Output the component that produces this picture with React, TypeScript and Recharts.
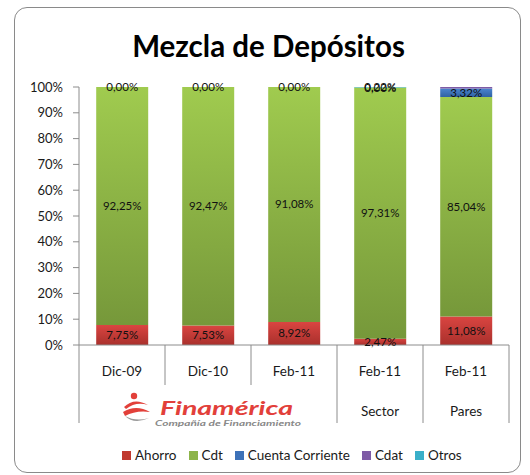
import React from 'react'
import { BarChart, Bar, XAxis, YAxis, LabelList } from 'recharts'

const periods = ['Dic-09', 'Dic-10', 'Feb-11', 'Feb-11', 'Feb-11']
const groups = ['Finamérica', 'Finamérica', 'Finamérica', 'Sector', 'Pares']

const ahorro = [7.75, 7.53, 8.92, 2.47, 11.08]
const cdt = [92.25, 92.47, 91.08, 97.31, 85.04]
const cuentaCorriente = [0, 0, 0, 0, 3.32]
const cdat = [0, 0, 0, 0, 0.56]
const otros = [0, 0, 0, 0.22, 0]

const yTicks = [0, 10, 20, 30, 40, 50, 60, 70, 80, 90, 100]

const SERIES = [
  { key: 'ahorro', name: 'Ahorro', fill: 'url(#gAhorro)', swatch: '#C0392F', label: 'all' },
  { key: 'cdt', name: 'Cdt', fill: 'url(#gCdt)', swatch: '#8DB44A', label: 'all' },
  { key: 'cc', name: 'Cuenta Corriente', fill: 'url(#gCc)', swatch: '#3D72B8', label: 'all' },
  { key: 'cdat', name: 'Cdat', fill: '#7E5BA6', swatch: '#7E5BA6', label: 'none' },
  { key: 'otros', name: 'Otros', fill: '#3AAFC9', swatch: '#3AAFC9', label: 'nonzero' },
]

const data = periods.map((p, i) => ({
  key: p + '-' + i,
  period: p,
  group: groups[i],
  ahorro: ahorro[i],
  cdt: cdt[i],
  cc: cuentaCorriente[i],
  cdat: cdat[i],
  otros: otros[i],
}))

const FONT = 'Lato, "DejaVu Sans", sans-serif'
const fmtPct = (v: number) => v.toFixed(2).replace('.', ',') + '%'

function Logo({ cx, y }: { cx: number; y: number }) {
  const x0 = cx - 86
  return (
    <g>
      <circle cx={x0 + 12} cy={y - 13} r={3.2} fill="#E2403A" />
      <path d={`M${x0 + 2} ${y - 2} Q${x0 + 12} ${y - 12} ${x0 + 26} ${y - 4} Q${x0 + 14} ${y - 8} ${x0 + 4} ${y}`} fill="#E2403A" />
      <path d={`M${x0 + 1} ${y + 3} Q${x0 + 14} ${y - 5} ${x0 + 28} ${y + 3} Q${x0 + 14} ${y + 1} ${x0 + 3} ${y + 7}`} fill="#E2403A" />
      <path d={`M${x0 + 3} ${y + 7} Q${x0 + 12} ${y + 16} ${x0 + 27} ${y + 9} Q${x0 + 14} ${y + 13} ${x0 + 3} ${y + 7}`} fill="#9A9A9A" />
      <text x={x0 + 38} y={y + 6} fontFamily={FONT} fontStyle="italic" fontWeight={700} fontSize={19.5} fill="#E2403A" textLength={133} lengthAdjust="spacingAndGlyphs">
        Finamérica
      </text>
      <text x={x0 + 33} y={y + 17} fontFamily={FONT} fontStyle="italic" fontWeight={700} fontSize={7.5} fill="#8A8A8A" textLength={146} lengthAdjust="spacingAndGlyphs">
        Compañía de Financiamiento
      </text>
    </g>
  )
}

function CategoryTick(props: any) {
  const { x, y, payload } = props
  const i: number = payload.index ?? props.index ?? 0
  const half: number = payload.offset || 43
  const band = half * 2
  const grp = groups[i]
  const groupEnd = i === groups.length - 1 || groups[i + 1] !== grp
  const groupStart = i === 0 || groups[i - 1] !== grp
  let span = 0
  if (groupStart) {
    for (let j = i; j < groups.length && groups[j] === grp; j++) span++
  }
  const gx = x - half + (span * band) / 2
  return (
    <g>
      {i === 0 && <line x1={x - half} x2={x - half} y1={y} y2={y + 78} stroke="#8C8C8C" />}
      <line x1={x + half} x2={x + half} y1={y} y2={groupEnd ? y + 78 : y + 40} stroke="#8C8C8C" />
      <text x={x} y={y + 31} textAnchor="middle" fontFamily={FONT} fontSize={13.5} fill="#1a1a1a">
        {periods[i]}
      </text>
      {groupStart && (grp === 'Finamérica'
        ? <Logo cx={gx} y={y + 64} />
        : <text x={gx} y={y + 71} textAnchor="middle" fontFamily={FONT} fontSize={13.5} fill="#1a1a1a">{grp}</text>)}
    </g>
  )
}

function LabelText({ x, y, v }: { x: number; y: number; v: number }) {
  return (
    <text x={x} y={y} dy={4} textAnchor="middle" fontFamily={FONT} fontSize={11.5} fill="#111">
      {fmtPct(v)}
    </text>
  )
}

function SegmentLabel(props: any) {
  const { x, y, width, height, value, hideZero } = props
  const v = Number(value)
  if (hideZero && !v) return null
  return <LabelText x={x + width / 2} y={y + height / 2} v={v} />
}

// Cuenta Corriente segments of zero height are not handed to their own LabelList,
// so their 0,00% label is drawn at the top edge of the Cdt segment they sit on.
function ZeroCcLabel(props: any) {
  const { x, y, width, index } = props
  const v = cuentaCorriente[index]
  if (v !== 0) return null
  return <LabelText x={x + width / 2} y={y} v={v} />
}

export default function App() {
  return (
    <div style={{ position: 'absolute', left: 0, top: 0, width: 530, height: 475, background: '#fff', fontFamily: FONT }}>
      <div style={{ position: 'absolute', left: 14, top: 7, width: 507, height: 466, border: '1px solid #8A8A8A', borderRadius: 13, boxSizing: 'border-box' }} />
      <div style={{ position: 'absolute', left: 0, width: 537, top: 26, textAlign: 'center', fontSize: 29.5, fontWeight: 700, color: '#000', lineHeight: '40px' }}>
        Mezcla de Depósitos
      </div>
      <div style={{ position: 'absolute', left: 0, top: 0 }}>
        <BarChart width={530} height={475} data={data} margin={{ top: 87, right: 21, left: 0, bottom: 0 }} barCategoryGap="20%">
          <defs>
            <linearGradient id="gAhorro" x1="0" y1="0" x2="0" y2="1">
              <stop offset="0%" stopColor="#DA4541" />
              <stop offset="100%" stopColor="#A9302C" />
            </linearGradient>
            <linearGradient id="gCdt" x1="0" y1="0" x2="0" y2="1">
              <stop offset="0%" stopColor="#A0CB4F" />
              <stop offset="100%" stopColor="#76983A" />
            </linearGradient>
            <linearGradient id="gCc" x1="0" y1="0" x2="0" y2="1">
              <stop offset="0%" stopColor="#4A85CF" />
              <stop offset="100%" stopColor="#2F62A3" />
            </linearGradient>
          </defs>
          <XAxis
            dataKey="key"
            interval={0}
            tickSize={0}
            tickMargin={0}
            height={130}
            stroke="#8C8C8C"
            tick={<CategoryTick />}
          />
          <YAxis
            domain={[0, 100]}
            ticks={yTicks}
            tickFormatter={(v: number) => `${v}%`}
            width={79}
            tickSize={6}
            tickMargin={10}
            stroke="#8C8C8C"
            tick={{ fill: '#1a1a1a', fontSize: 13, fontFamily: FONT }}
            interval={0}
          />
          {SERIES.map((s) => (
            <Bar key={s.key} dataKey={s.key} name={s.name} stackId="a" fill={s.fill} isAnimationActive={false}>
              {s.label !== 'none' && (
                <LabelList dataKey={s.key} content={<SegmentLabel hideZero={s.label === 'nonzero'} />} />
              )}
              {s.key === 'cdt' && <LabelList dataKey="cc" content={<ZeroCcLabel />} />}
            </Bar>
          ))}
        </BarChart>
      </div>
      <div style={{ position: 'absolute', left: 122, top: 447, display: 'flex', alignItems: 'center', fontSize: 13.5, color: '#1a1a1a', whiteSpace: 'nowrap' }}>
        {SERIES.map((s) => (
          <div key={s.key} style={{ display: 'flex', alignItems: 'center', marginRight: 12 }}>
            <span style={{ width: 9, height: 9, background: s.swatch, display: 'inline-block', marginRight: 4 }} />
            <span>{s.name}</span>
          </div>
        ))}
      </div>
    </div>
  )
}
